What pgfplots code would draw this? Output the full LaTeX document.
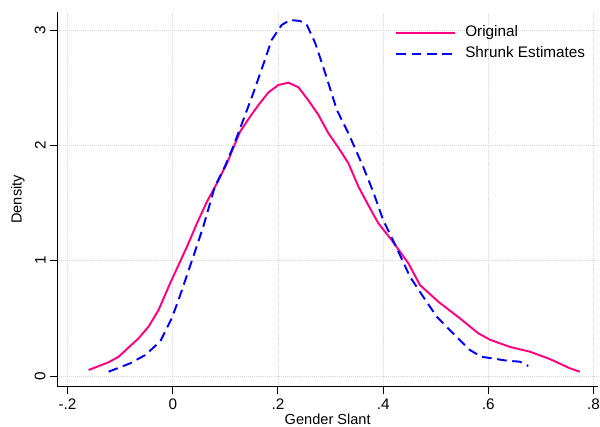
\documentclass[border=0pt]{standalone}
\usepackage{pgfplots}
\pgfplotsset{compat=1.18}
\usepackage{fontspec}
\setmainfont{Liberation Sans}
\definecolor{origpink}{RGB}{255,0,128}
\definecolor{shrunkblue}{RGB}{0,0,255}
\definecolor{gridgray}{RGB}{215,215,215}
\begin{document}
\begin{tikzpicture}
\begin{axis}[
  scale only axis,
  width=389.3pt, height=269.8pt,
  xmin=-0.2194, xmax=0.8086,
  ymin=-0.093, ymax=3.157,
  axis lines*=left,
  axis line style={black, line width=0.7pt},
  tick align=outside,
  major tick length=5pt,
  tick style={black, line width=0.7pt},
  xtick={-0.2,0,0.2,0.4,0.6,0.8},
  xticklabels={-.2,0,.2,.4,.6,.8},
  ytick={0,1,2,3},
  yticklabels={0,1,2,3},
  yticklabel style={rotate=90, anchor=south},
  xmajorgrids, ymajorgrids,
  major grid style={densely dotted, gridgray, line width=0.6pt},
  /pgf/number format/assume math mode=true,
  tick label style={font=\fontsize{11}{13}\selectfont},
  label style={font=\fontsize{10.5}{12}\selectfont},
  xlabel={Gender Slant},
  ylabel={Density},
  xlabel style={at={(axis description cs:0.5,0)}, anchor=north, yshift=-16pt},
  ylabel style={at={(axis description cs:0,0.5)}, anchor=south, yshift=20pt},
  legend cell align=left,
  legend style={at={(rel axis cs:0.6245,0.9653)}, anchor=north west, draw=none, fill=none,
    inner sep=0pt, row sep=5pt, font=\fontsize{11}{13}\selectfont,
    nodes={inner sep=0pt, text height=8pt, text depth=2.5pt}},
  legend image code/.code={\draw[#1] (0pt,0pt) -- (42pt,0pt); \path (49pt,0pt);},
  clip=false,
]
\coordinate (sw) at (rel axis cs:0,0);
\addplot[origpink, line width=1.4pt, line join=round] coordinates {
(-0.160,0.052) (-0.122,0.119) (-0.103,0.167) (-0.065,0.327) (-0.046,0.428) (-0.027,0.572) (-0.005,0.804) (0.027,1.121) (0.046,1.324) (0.065,1.512) (0.084,1.671) (0.103,1.845) (0.128,2.119) (0.147,2.249) (0.163,2.35) (0.182,2.46) (0.201,2.524) (0.220,2.544) (0.239,2.504) (0.258,2.39) (0.277,2.264) (0.296,2.105) (0.315,1.98) (0.334,1.845) (0.353,1.642) (0.372,1.48) (0.391,1.324) (0.416,1.18) (0.448,0.977) (0.470,0.789) (0.505,0.644) (0.546,0.50) (0.581,0.370) (0.603,0.315) (0.641,0.252) (0.679,0.211) (0.717,0.147) (0.755,0.067) (0.774,0.037)
};
\addlegendentry{Original}
\addplot[shrunkblue, line width=1.4pt, line join=round, dash pattern=on 7pt off 4pt] coordinates {
(-0.122,0.037) (-0.081,0.11) (-0.053,0.18) (-0.024,0.298) (-0.002,0.50) (0.011,0.66) (0.039,1.035) (0.058,1.295) (0.080,1.642) (0.099,1.815) (0.115,1.99) (0.134,2.22) (0.153,2.452) (0.172,2.70) (0.188,2.914) (0.207,3.044) (0.223,3.088) (0.242,3.079) (0.255,3.044) (0.271,2.886) (0.29,2.625) (0.312,2.307) (0.334,2.105) (0.362,1.815) (0.381,1.599) (0.400,1.353) (0.426,1.108) (0.451,0.861) (0.476,0.688) (0.502,0.514) (0.533,0.370) (0.565,0.225) (0.587,0.167) (0.635,0.133) (0.660,0.124) (0.676,0.087)
};
\addlegendentry{Shrunk Estimates}
\end{axis}
\pgfresetboundingbox
\path (sw) ++(-41.3pt,-29.0pt) rectangle ++(432pt,307.44pt);
\end{tikzpicture}
\end{document}
